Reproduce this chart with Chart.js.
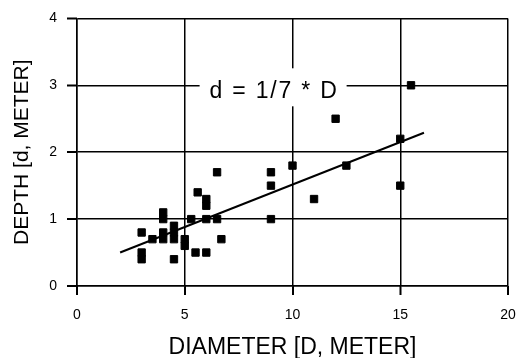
<!DOCTYPE html>
<html>
<head>
<meta charset="utf-8">
<script src="https://cdn.jsdelivr.net/npm/chart.js@4/dist/chart.umd.min.js"></script>
<style>
  html, body { margin: 0; padding: 0; background: #fff; }
  #wrap { width: 517px; height: 358px; }
</style>
</head>
<body>
<div id="wrap"><canvas id="c" width="517" height="358"></canvas></div>
<script>
// Measured craters: diameter D (m) and depth d (m)
const diameters = [3, 3, 3, 3.5, 4, 4, 4, 4, 4.5, 4.5, 4.5, 4.5, 5, 5, 5.3, 5.5, 5.6, 6, 6, 6, 6, 6.5, 6.5, 6.7, 9, 9, 9, 10, 11, 12, 12.5, 15, 15, 15.5];
const depths    = [0.8, 0.5, 0.4, 0.7, 1.1, 1.0, 0.8, 0.7, 0.9, 0.8, 0.7, 0.4, 0.7, 0.6, 1.0, 0.5, 1.4, 1.3, 1.2, 1.0, 0.5, 1.7, 1.0, 0.7, 1.7, 1.5, 1.0, 1.8, 1.3, 2.5, 1.8, 2.2, 1.5, 3.0];
// Trend line end points
const fitD = [2.0, 16.1];
const fitd = [0.5, 2.29];
// Axis ticks
const xTicks = [0, 5, 10, 15, 20];
const yTicks = [0, 1, 2, 3, 4];
const labelText = 'd = 1/7 * D';

const FONT = "'Liberation Sans', Arial, sans-serif";

const labelPlugin = {
  id: 'eqLabel',
  afterDatasetsDraw(chart, args, opts) {
    const {ctx, scales} = chart;
    const cx = scales.x.getPixelForValue(opts.x);
    const cy = scales.y.getPixelForValue(opts.y);
    ctx.save();
    ctx.fillStyle = '#fff';
    ctx.fillRect(cx - opts.w / 2, cy - opts.h / 2, opts.w, opts.h);
    ctx.font = opts.size + 'px ' + FONT;
    if ('letterSpacing' in ctx) ctx.letterSpacing = opts.spacing + 'px';
    ctx.fillStyle = '#000';
    ctx.textAlign = 'center';
    ctx.textBaseline = 'middle';
    ctx.fillText(opts.text, cx + opts.spacing / 2, cy + 4);
    ctx.restore();
  }
};

const tickMarks = {
  id: 'tickMarks',
  afterDraw(chart) {
    const {ctx, scales, chartArea} = chart;
    ctx.save();
    ctx.strokeStyle = '#000';
    ctx.lineWidth = 1.5;
    ctx.beginPath();
    xTicks.forEach(v => {
      const px = Math.round(scales.x.getPixelForValue(v)) + 0.25;
      ctx.moveTo(px, chartArea.bottom);
      ctx.lineTo(px, chartArea.bottom + 9);
    });
    yTicks.forEach(v => {
      const py = Math.round(scales.y.getPixelForValue(v)) + 0.25;
      ctx.moveTo(chartArea.left - 10, py);
      ctx.lineTo(chartArea.left, py);
    });
    ctx.stroke();
    ctx.restore();
  }
};

new Chart(document.getElementById('c'), {
  type: 'scatter',
  data: {
    datasets: [
      {
        type: 'scatter',
        data: diameters.map((d, i) => ({x: d, y: depths[i]})),
        pointStyle: 'rect',
        pointRadius: 5.2,
        pointBackgroundColor: '#000',
        pointBorderColor: '#000',
        pointBorderWidth: 1,
        order: 1
      },
      {
        type: 'line',
        data: fitD.map((d, i) => ({x: d, y: fitd[i]})),
        borderColor: '#000',
        borderWidth: 2,
        pointRadius: 0,
        fill: false,
        order: 2
      }
    ]
  },
  options: {
    responsive: false,
    animation: false,
    devicePixelRatio: 1,
    layout: { padding: { top: 17, right: 0, left: 0, bottom: 0 } },
    plugins: {
      legend: { display: false },
      tooltip: { enabled: false },
      eqLabel: { text: labelText, x: 9.1, y: 2.97, w: 147, h: 38, size: 23, spacing: 1.8 }
    },
    scales: {
      x: {
        type: 'linear',
        min: 0, max: 20,
        afterBuildTicks: s => { s.ticks = xTicks.map(v => ({value: v})); },
        afterFit: s => { s.height = 72; s.paddingRight = 9; s.paddingLeft = 0; },
        grid: { color: '#000', lineWidth: 1.5, drawTicks: true, tickLength: 9, tickColor: '#000', tickWidth: 1.5 },
        border: { color: '#000', width: 1.5 },
        ticks: { color: '#000', font: { family: FONT, size: 14 }, padding: 12, maxRotation: 0 },
        title: { display: true, text: 'DIAMETER [D, METER]', color: '#000', font: { family: FONT, size: 23 }, padding: { top: 0, bottom: -3 } }
      },
      y: {
        type: 'linear',
        min: 0, max: 4,
        afterBuildTicks: s => { s.ticks = yTicks.map(v => ({value: v})); },
        afterFit: s => { s.width = 77; },
        grid: { color: '#000', lineWidth: 1.5, drawTicks: true, tickLength: 10, tickColor: '#000', tickWidth: 1.5 },
        border: { color: '#000', width: 1.5 },
        ticks: { color: '#000', font: { family: FONT, size: 14 }, padding: 10 },
        title: { display: true, text: 'DEPTH [d, METER]', color: '#000', font: { family: FONT, size: 21 }, padding: { top: 10, bottom: 0 } }
      }
    }
  },
  plugins: [labelPlugin, tickMarks]
});
</script>
</body>
</html>
